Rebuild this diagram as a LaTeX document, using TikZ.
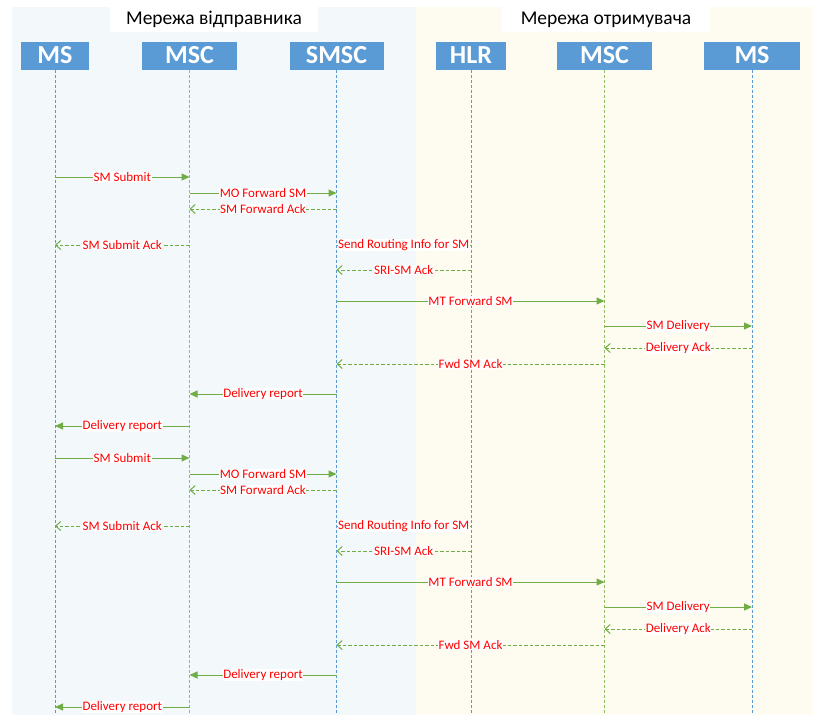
\documentclass[tikz,border=0pt]{standalone}
\usepackage{fontspec}
\setmainfont{Carlito}
\usetikzlibrary{arrows.meta}

\definecolor{hdrblue}{HTML}{5B9BD5}
\definecolor{sendbg}{HTML}{F3F8FB}
\definecolor{recvbg}{HTML}{FEFCF0}
\definecolor{msggreen}{HTML}{70AD47}
\definecolor{lifegreen}{HTML}{8CC063}

\tikzset{
  hdr/.style={fill=hdrblue, text=white, font=\bfseries\fontsize{26}{26}\selectfont,
    minimum height=28pt, inner sep=0pt},
  netlabel/.style={fill=white, font=\fontsize{19.5}{19.5}\selectfont, minimum height=25pt, inner sep=0pt},
  lifeblue/.style={draw=hdrblue, line width=0.8pt, dash pattern=on 3pt off 2pt},
  lifegrn/.style={draw=lifegreen, line width=0.8pt, dash pattern=on 3pt off 2pt},
  go/.style={draw=msggreen, line width=1pt, -{Triangle[length=8pt,width=7pt]}},
  back/.style={draw=msggreen, line width=1pt, dash pattern=on 3.5pt off 2pt,
    -{Straight Barb[length=5pt,width=9pt]}},
  plain/.style={draw=msggreen, line width=1pt},
  lbl/.style={fill=white, text=red, font=\fontsize{13}{13}\selectfont, inner sep=0.6pt}
}

\begin{document}
\begin{tikzpicture}[x=1pt, y=-1pt]
    \useasboundingbox (0,0) rectangle (813,715);
    \fill[sendbg] (12,7) rectangle (416,715);
    \fill[recvbg] (416,7) rectangle (813,715);

    \node[netlabel, minimum width=208pt] (sendnet) at (214,19.5) {Мережа відправника};
    \node[netlabel, minimum width=208pt] (recvnet) at (606,19.5) {Мережа отримувача};

    \node[hdr, minimum width=68pt] (ms1) at (55,55.5) {MS};
    \node[hdr, minimum width=95pt] (msc1) at (189.5,55.5) {MSC};
    \node[hdr, minimum width=94pt] (smsc) at (336.5,55.5) {SMSC};
    \node[hdr, minimum width=70pt] (hlr) at (471,55.5) {HLR};
    \node[hdr, minimum width=95pt] (msc2) at (604.5,55.5) {MSC};
    \node[hdr, minimum width=96pt] (ms2) at (752,55.5) {MS};

    \path[lifeblue] (ms1.south) -- (ms1.south |- 0,713);
    \path[lifegrn] (msc1.south) -- (msc1.south |- 0,713);
    \path[lifeblue] (smsc.south) -- (smsc.south |- 0,713);
    \path[lifeblue] (hlr.south) -- (hlr.south |- 0,713);
    \path[lifegrn] (msc2.south) -- (msc2.south |- 0,713);
    \path[lifeblue] (ms2.south) -- (ms2.south |- 0,713);

    \foreach \dy in {0,281} {
      \foreach \y/\a/\b/\txt/\st in {
          177/ms1/msc1/SM Submit/go,
          193/msc1/smsc/MO Forward SM/go,
          209/smsc/msc1/SM Forward Ack/back,
          245/msc1/ms1/SM Submit Ack/back,
          245/smsc/hlr/Send Routing Info for SM/plain,
          270/hlr/smsc/SRI-SM Ack/back,
          301/smsc/msc2/MT Forward SM/go,
          326/msc2/ms2/SM Delivery/go,
          348/ms2/msc2/Delivery Ack/back,
          364/msc2/smsc/Fwd SM Ack/back,
          394/smsc/msc1/Delivery report/go,
          426/msc1/ms1/Delivery report/go} {
        \pgfmathsetmacro\yy{\y+\dy}
        \path[\st] (\a |- 0,\yy) -- (\b |- 0,\yy) node[midway, lbl] {\txt};
      }
    }
\end{tikzpicture}
\end{document}
